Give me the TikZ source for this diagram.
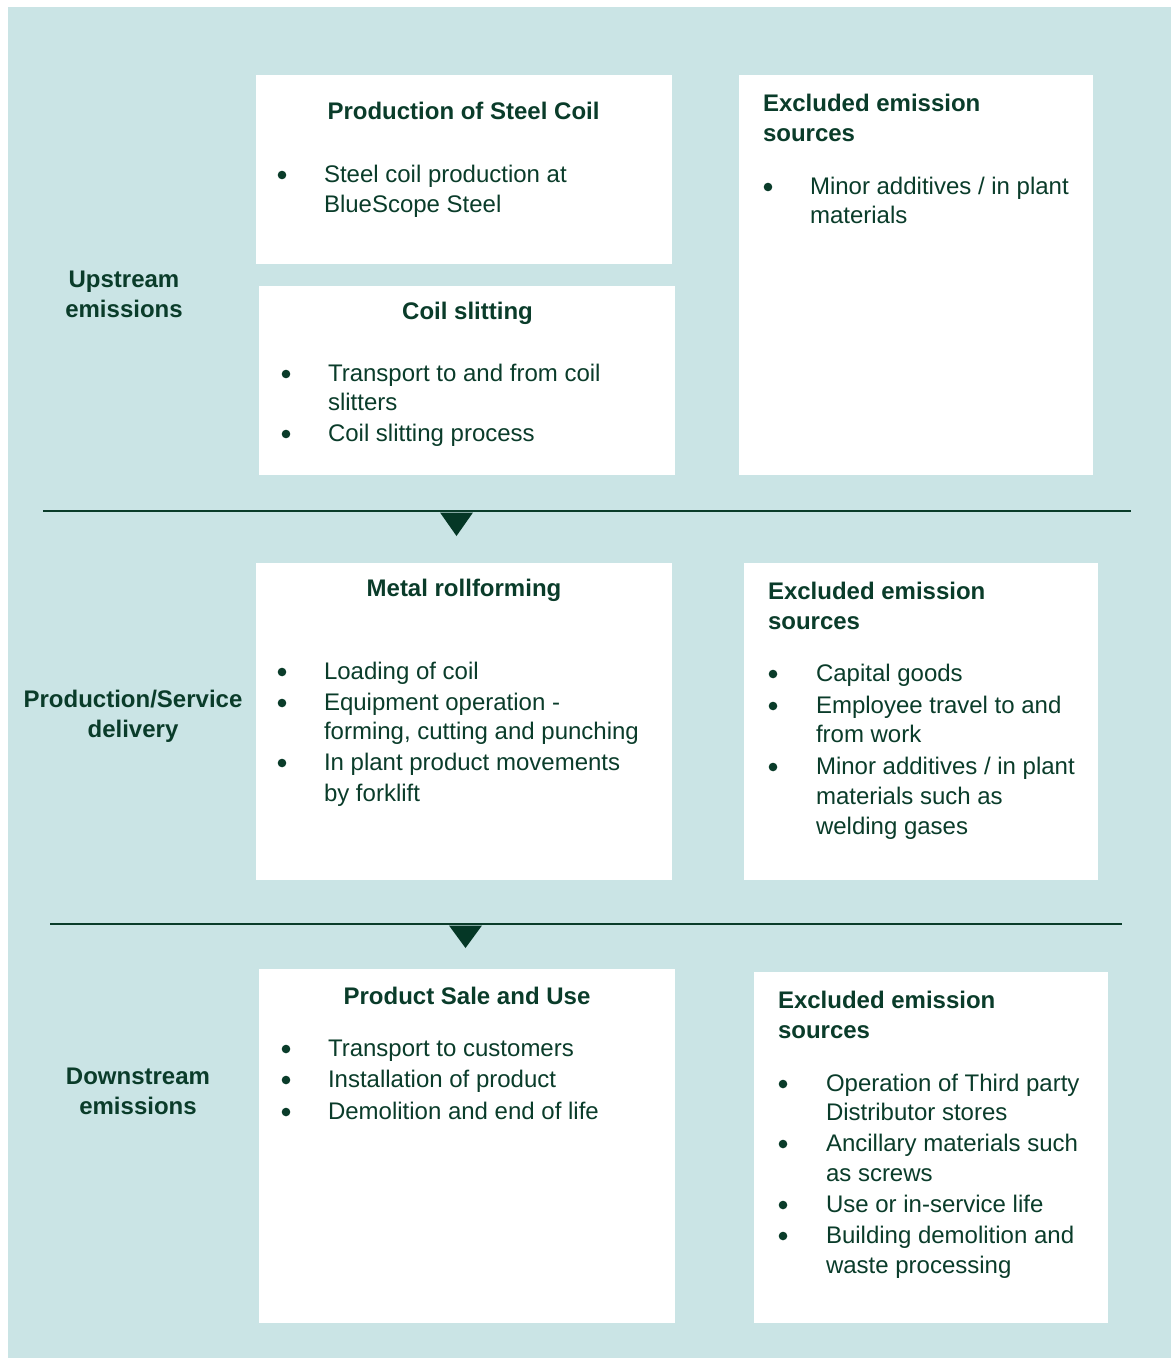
\documentclass[tikz,border=0pt]{standalone}
\usepackage{fontspec}
\setmainfont{Liberation Sans}
\definecolor{bgc}{RGB}{202,228,229}
\definecolor{txtc}{RGB}{10,60,42}
\definecolor{tric}{RGB}{5,55,38}
\begin{document}
\begin{tikzpicture}[x=1pt,y=-1pt,
  every node/.style={inner sep=0pt, outer sep=0pt, text=txtc, font=\fontsize{24}{30}\selectfont},
  ttl/.style={font=\fontsize{24}{30}\selectfont\bfseries, anchor=base},
  ttlw/.style={font=\fontsize{24}{30}\selectfont\bfseries, anchor=base west},
  itm/.style={anchor=base west},
  bul/.style={fill=txtc},
  panel/.style={fill=white},
  sep/.style={draw=txtc, line width=1.3pt},
  tri/.style={fill=tric}]
\useasboundingbox (0,0) rectangle (1171,1358);
\fill[bgc] (8,7) rectangle (1171,1358);

% ---------- Row 1 ----------
\fill[panel] (256,75) rectangle (672,264);
\node[ttl] (tA) at (463.5,119) {Production of Steel Coil};
\fill[bul] (282,175) circle (4.3);
\node[itm] (a1) at (324,182) {Steel coil production at};
\node[itm] (a2) at (324,212) {BlueScope Steel};

\fill[panel] (259,286) rectangle (675,475);
\node[ttl] (tB) at (467.5,319) {Coil slitting};
\fill[bul] (286,374) circle (4.3);
\node[itm] (b1) at (328,381) {Transport to and from coil};
\node[itm] (b2) at (328,410) {slitters};
\fill[bul] (286,434) circle (4.3);
\node[itm] (b3) at (328,441) {Coil slitting process};

\fill[panel] (739,75) rectangle (1093,475);
\node[ttlw] (tC1) at (763,111) {Excluded emission};
\node[ttlw] (tC2) at (763,141) {sources};
\fill[bul] (768,187) circle (4.3);
\node[itm] (c1) at (810,194) {Minor additives / in plant};
\node[itm] (c2) at (810,223) {materials};

\node[ttl] (L1a) at (124,287) {Upstream};
\node[ttl] (L1b) at (124,317) {emissions};

\coordinate (s1a) at (43,511);
\coordinate (s1b) at (1131,511);
\draw[sep] (s1a) -- (s1b);
\fill[tri] (440,512.5) -- (473,512.5) -- (456.5,536) -- cycle;

% ---------- Row 2 ----------
\fill[panel] (256,563) rectangle (672,880);
\node[ttl] (tD) at (464,596) {Metal rollforming};
\fill[bul] (282,672) circle (4.3);
\node[itm] (d1) at (324,679) {Loading of coil};
\fill[bul] (282,703) circle (4.3);
\node[itm] (d2) at (324,710) {Equipment operation -};
\node[itm] (d3) at (324,739) {forming, cutting and punching};
\fill[bul] (282,763) circle (4.3);
\node[itm] (d4) at (324,770) {In plant product movements};
\node[itm] (d5) at (324,801) {by forklift};

\fill[panel] (744,563) rectangle (1098,880);
\node[ttlw] (tE1) at (768,599) {Excluded emission};
\node[ttlw] (tE2) at (768,629) {sources};
\fill[bul] (773,674) circle (4.3);
\node[itm] (e1) at (816,681) {Capital goods};
\fill[bul] (773,706) circle (4.3);
\node[itm] (e2) at (816,713) {Employee travel to and};
\node[itm] (e3) at (816,742) {from work};
\fill[bul] (773,767) circle (4.3);
\node[itm] (e4) at (816,774) {Minor additives / in plant};
\node[itm] (e5) at (816,804) {materials such as};
\node[itm] (e6) at (816,834) {welding gases};

\node[ttl] (L2a) at (133,707) {Production/Service};
\node[ttl] (L2b) at (133,737) {delivery};

\coordinate (s2a) at (50,924);
\coordinate (s2b) at (1122,924);
\draw[sep] (s2a) -- (s2b);
\fill[tri] (449,925.5) -- (482,925.5) -- (465.5,948) -- cycle;

% ---------- Row 3 ----------
\fill[panel] (259,969) rectangle (675,1323);
\node[ttl] (tF) at (467,1004) {Product Sale and Use};
\fill[bul] (286,1049) circle (4.3);
\node[itm] (f1) at (328,1056) {Transport to customers};
\fill[bul] (286,1080) circle (4.3);
\node[itm] (f2) at (328,1087) {Installation of product};
\fill[bul] (286,1112) circle (4.3);
\node[itm] (f3) at (328,1119) {Demolition and end of life};

\fill[panel] (754,972) rectangle (1108,1323);
\node[ttlw] (tG1) at (778,1008) {Excluded emission};
\node[ttlw] (tG2) at (778,1038) {sources};
\fill[bul] (783,1084) circle (4.3);
\node[itm] (g1) at (826,1091) {Operation of Third party};
\node[itm] (g2) at (826,1120) {Distributor stores};
\fill[bul] (783,1144) circle (4.3);
\node[itm] (g3) at (826,1151) {Ancillary materials such};
\node[itm] (g4) at (826,1181) {as screws};
\fill[bul] (783,1205) circle (4.3);
\node[itm] (g5) at (826,1212) {Use or in-service life};
\fill[bul] (783,1236) circle (4.3);
\node[itm] (g6) at (826,1243) {Building demolition and};
\node[itm] (g7) at (826,1273) {waste processing};

\node[ttl] (L3a) at (138,1084) {Downstream};
\node[ttl] (L3b) at (138,1114) {emissions};
\end{tikzpicture}
\end{document}
